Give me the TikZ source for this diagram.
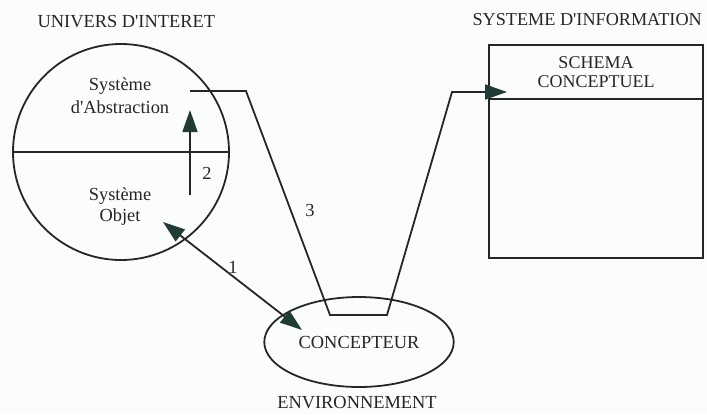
\documentclass[tikz,border=0pt]{standalone}
\usepackage{fontspec}
\setmainfont{Liberation Serif}
\usetikzlibrary{arrows.meta,shapes.geometric}
\definecolor{inkgray}{RGB}{38,38,38}
\definecolor{tipgreen}{RGB}{33,60,54}
\definecolor{paper}{RGB}{251,252,252}
\begin{document}
\begin{tikzpicture}[x=.5pt,y=-.5pt,line width=.9pt,color=inkgray,
  font=\fontsize{9.2}{11.5}\selectfont,
  >={Triangle[length=11pt,width=7.5pt,color=tipgreen]}]
  \fill[paper] (0,0) rectangle (707,414);
  \useasboundingbox (0,0) rectangle (707,414);
  % univers d'interet
  \node[circle,draw,minimum size=108pt] (univ) at (121,152) {};
  \draw (univ.west) -- (univ.east);
  \node[anchor=west] (univtitle) at (30,22) {UNIVERS D\textquotesingle INTERET};
  \node[align=center] (abstr) at (120,96) {Système\\d\textquotesingle Abstraction};
  \node[align=center,font=\fontsize{9.2}{10.5}\selectfont] (objet) at (120,207) {Système\\Objet};
  % environnement
  \node[ellipse,draw,minimum width=94pt,minimum height=45pt] (concep) at (359,342) {CONCEPTEUR};
  \node (envir) at (357,403) {ENVIRONNEMENT};
  % systeme d'information
  \node[draw,minimum width=107pt,minimum height=106.5pt] (sysinfo) at (596,151.5) {};
  \draw (sysinfo.north west) ++(0,55) -- ++(214,0);
  \node[align=center,font=\fontsize{9}{9.5}\selectfont] (schema) at (596,72) {SCHEMA\\CONCEPTUEL};
  \node[anchor=west,font=\fontsize{9.1}{10}\selectfont] (infotitle) at (465,20) {SYSTEME D\textquotesingle INFORMATION};
  % liaisons
  \coordinate (s1) at (163,222);
  \coordinate (e1) at (302,330);
  \draw[<->] (s1) -- (e1);
  \coordinate (s2) at (190,195);
  \coordinate (e2) at (190,110);
  \draw[->] (s2) -- (e2);
  \coordinate (p3a) at (190,91);
  \coordinate (p3b) at (246,91);
  \coordinate (p3c) at (330,315);
  \coordinate (p3d) at (387,315);
  \coordinate (p3e) at (452,92);
  \coordinate (p3f) at (507,92);
  \draw[->] (p3a) -- (p3b) -- (p3c) -- (p3d) -- (p3e) -- (p3f);
  \path (233,267) node (lab1) {1} (207,173) node (lab2) {2} (310,210) node (lab3) {3};
\end{tikzpicture}
\end{document}
